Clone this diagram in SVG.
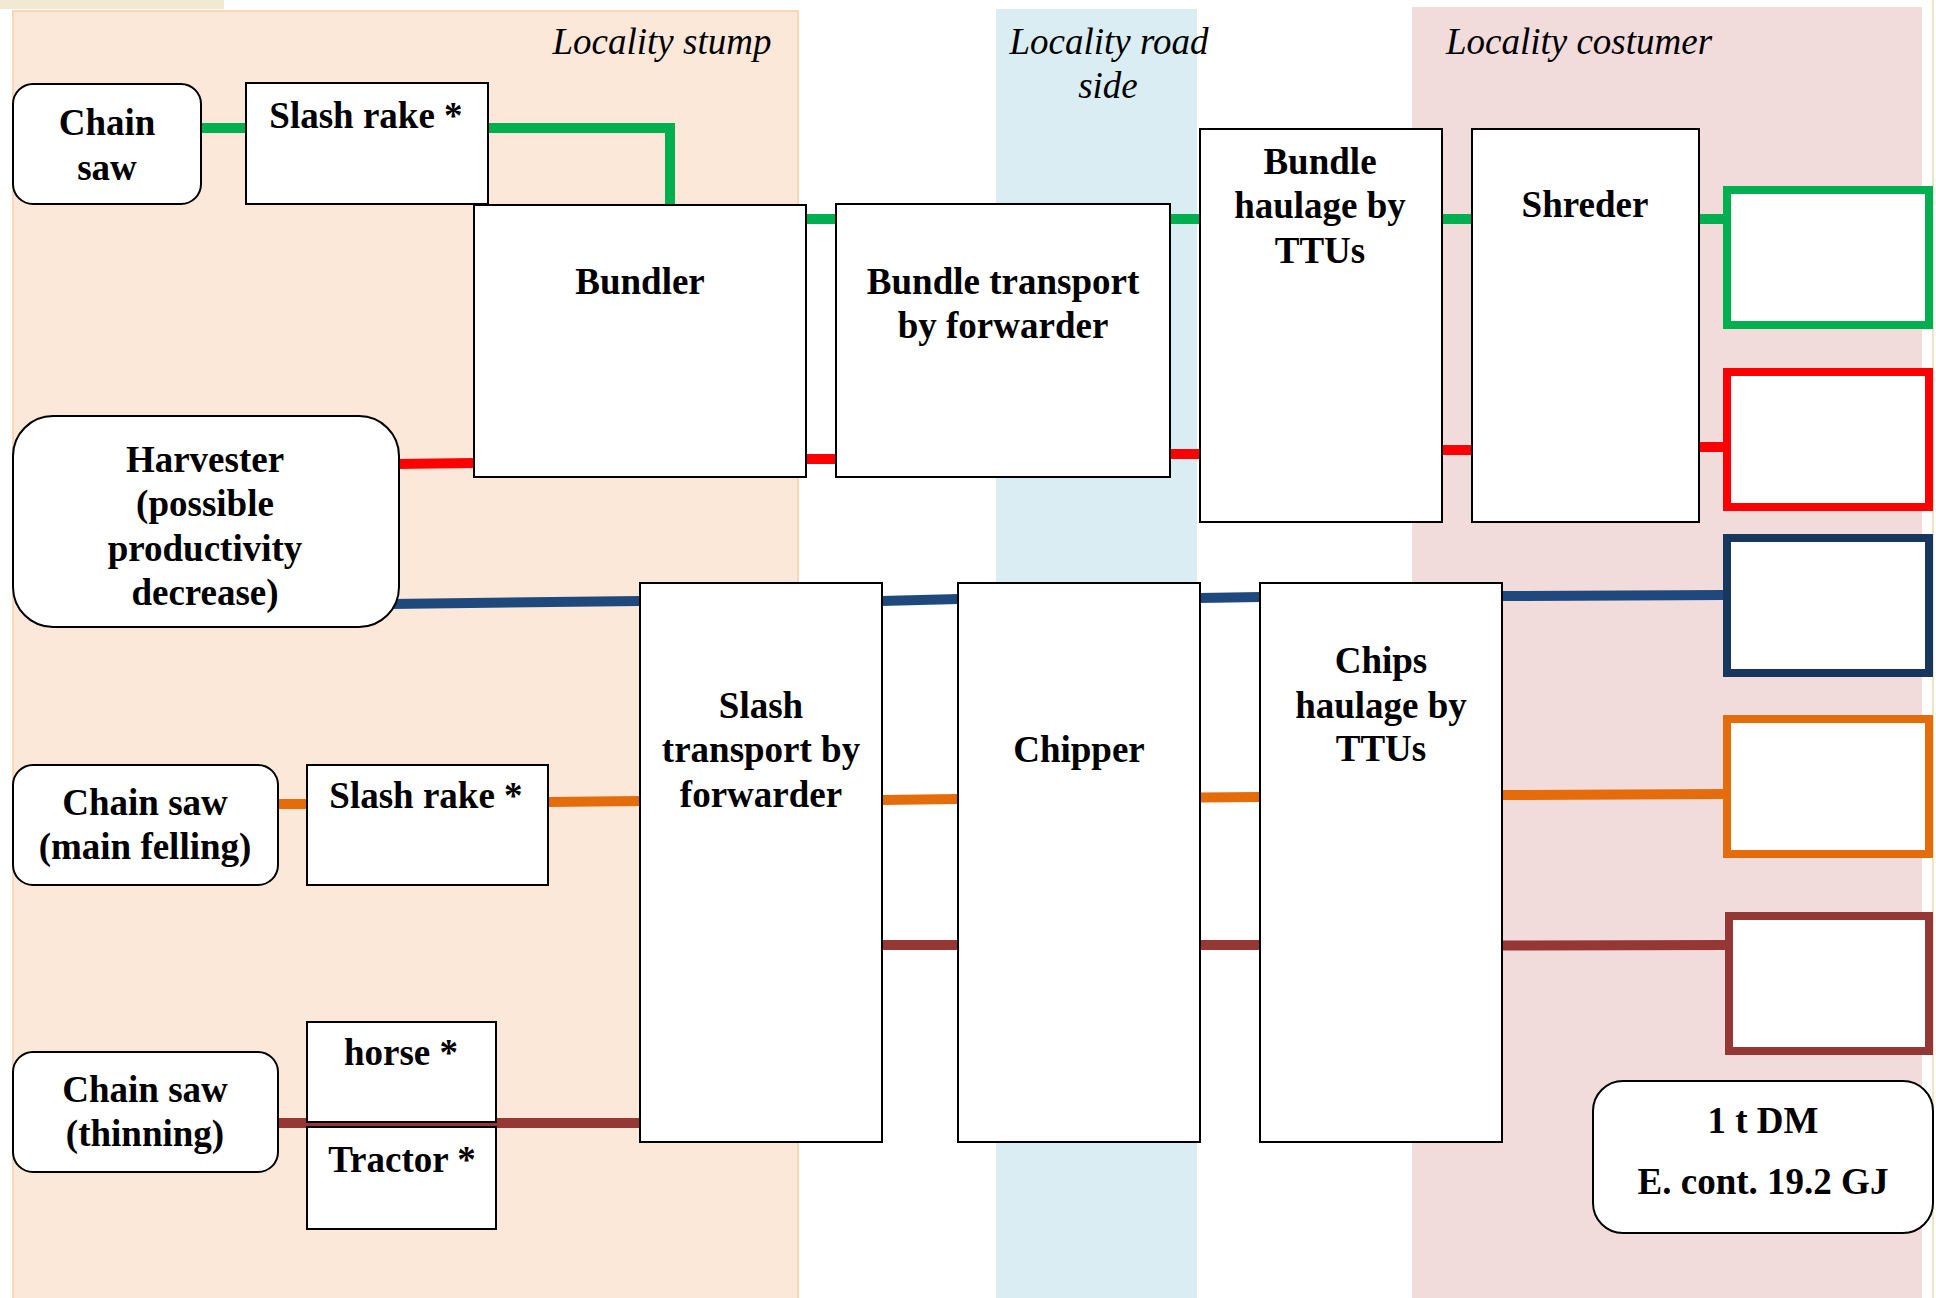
<svg xmlns="http://www.w3.org/2000/svg" width="1936" height="1298" viewBox="0 0 1936 1298">
<style>
.t{font-family:"Liberation Serif","Times New Roman",serif;font-weight:bold;font-size:37px;text-anchor:middle;fill:#000}
.z{font-family:"Liberation Serif","Times New Roman",serif;font-style:italic;font-size:37px;text-anchor:middle;fill:#000}
.b{fill:#fff;stroke:#000;stroke-width:2}
.c{fill:none;stroke-width:10;stroke-linecap:butt;stroke-linejoin:miter}
.o{fill:#fff;stroke-width:8}
</style>
<rect width="1936" height="1298" fill="#fff"/>
<g id="zones">
<rect x="0" y="0" width="224" height="9" fill="#F2E9D2"/>
<rect x="13" y="11" width="785" height="1290" fill="#FCE8D9" stroke="#F9D6B8" stroke-width="2"/>
<rect x="996" y="9" width="201" height="1289" fill="#DAEDF3"/>
<rect x="1412" y="7" width="510" height="1291" fill="#F1DBDB"/>
<line x1="1933" y1="0" x2="1933" y2="1298" stroke="#EEE4C8" stroke-width="2"/>
<text class="z" x="662" y="54">Locality stump</text>
<text class="z" x="1109" y="54">Locality road</text>
<text class="z" x="1108" y="98">side</text>
<text class="z" x="1579" y="54">Locality costumer</text>
</g>
<g id="connectors">
<path class="c" stroke="#00B050" d="M195,128H250"/>
<path class="c" stroke="#00B050" d="M486,128H670V206"/>
<path class="c" stroke="#00B050" d="M805,219H837M1169,219H1201M1441,219H1473M1698,219H1724"/>
<path class="c" stroke="#FF0000" d="M395,464L474,463M805,459L837,459M1169,454L1201,454M1441,450L1473,450M1698,447L1724,447"/>
<path class="c" stroke="#1F497D" d="M390,604L641,601M881,601L959,599M1199,598L1261,597M1501,596L1724,595"/>
<path class="c" stroke="#E46C0A" d="M276,804H308M547,802L641,801M881,800L959,799M1199,797.5L1261,797M1501,795L1724,794"/>
<path class="c" stroke="#953735" d="M276,1123H641M881,945H959M1199,945H1261M1501,945.5L1726,945"/>
</g>
<g id="chainsaw1"><rect class="b" x="13" y="84" width="188" height="120" rx="20"/><text class="t" x="107" y="135">Chain</text><text class="t" x="107" y="180">saw</text></g>
<g id="slashrake1"><rect class="b" x="246" y="83" width="242" height="121"/><text class="t" x="366" y="128">Slash rake *</text></g>
<g id="bundler"><rect class="b" x="474" y="205" width="332" height="272"/><text class="t" x="640" y="294">Bundler</text></g>
<g id="harvester"><rect class="b" x="13" y="416" width="386" height="211" rx="40"/><text class="t" x="205" y="472">Harvester</text><text class="t" x="205" y="516">(possible</text><text class="t" x="205" y="561">productivity</text><text class="t" x="205" y="605">decrease)</text></g>
<g id="bundletransport"><rect class="b" x="836" y="204" width="334" height="273"/><text class="t" x="1003" y="294">Bundle transport</text><text class="t" x="1003" y="338">by forwarder</text></g>
<g id="bundlehaulage"><rect class="b" x="1200" y="129" width="242" height="393"/><text class="t" x="1320" y="174">Bundle</text><text class="t" x="1320" y="218">haulage by</text><text class="t" x="1320" y="263">TTUs</text></g>
<g id="shreder"><rect class="b" x="1472" y="129" width="227" height="393"/><text class="t" x="1585" y="217">Shreder</text></g>
<g id="slashtransport"><rect class="b" x="640" y="583" width="242" height="559"/><text class="t" x="761" y="718">Slash</text><text class="t" x="761" y="762">transport by</text><text class="t" x="761" y="807">forwarder</text></g>
<g id="chipper"><rect class="b" x="958" y="583" width="242" height="559"/><text class="t" x="1079" y="762">Chipper</text></g>
<g id="chipshaulage"><rect class="b" x="1260" y="583" width="242" height="559"/><text class="t" x="1381" y="673">Chips</text><text class="t" x="1381" y="718">haulage by</text><text class="t" x="1381" y="761">TTUs</text></g>
<g id="chainsaw2"><rect class="b" x="13" y="765" width="265" height="120" rx="20"/><text class="t" x="145" y="815">Chain saw</text><text class="t" x="145" y="859">(main felling)</text></g>
<g id="slashrake2"><rect class="b" x="307" y="765" width="241" height="120"/><text class="t" x="426" y="808">Slash rake *</text></g>
<g id="chainsaw3"><rect class="b" x="13" y="1052" width="265" height="120" rx="20"/><text class="t" x="145" y="1102">Chain saw</text><text class="t" x="145" y="1146">(thinning)</text></g>
<g id="horse"><rect class="b" x="307" y="1022" width="189" height="100"/><text class="t" x="401" y="1065">horse *</text></g>
<g id="tractor"><rect class="b" x="307" y="1127" width="189" height="102"/><text class="t" x="402" y="1172">Tractor *</text></g>
<g id="out-green"><rect class="o" stroke="#00B050" x="1727" y="190" width="202" height="135"/></g>
<g id="out-red"><rect class="o" stroke="#FF0000" x="1727" y="372" width="202" height="135"/></g>
<g id="out-navy"><rect class="o" stroke="#17375E" x="1727" y="538" width="202" height="135"/></g>
<g id="out-orange"><rect class="o" stroke="#E46C0A" x="1727" y="719" width="202" height="135"/></g>
<g id="out-brown"><rect class="o" stroke="#953735" x="1729" y="916" width="200" height="135"/></g>
<g id="energy"><rect class="b" x="1593" y="1081" width="340" height="152" rx="30"/><text class="t" x="1763" y="1133">1 t DM</text><text class="t" x="1763" y="1194">E. cont. 19.2 GJ</text></g>
</svg>
